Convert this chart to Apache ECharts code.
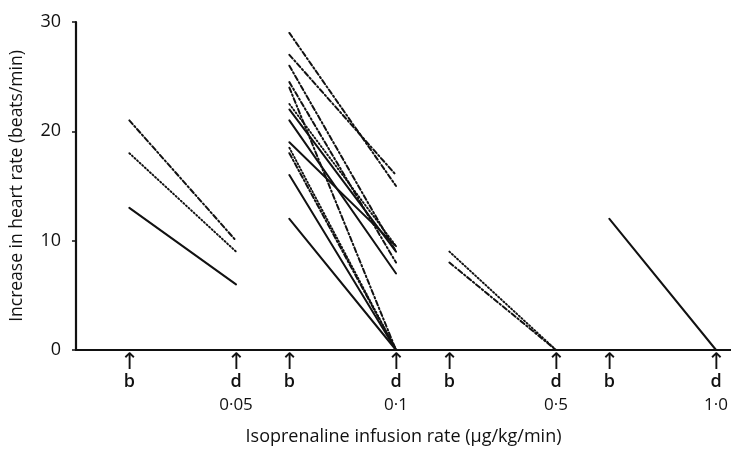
<!DOCTYPE html>
<html>
<head>
<meta charset="utf-8">
<script src="https://cdn.jsdelivr.net/npm/echarts@6/dist/echarts.min.js"></script>
<style>
html,body{margin:0;padding:0;background:#fff;}
#chart{width:731px;height:452px;}
</style>
</head>
<body>
<div id="chart"></div>
<script>
// Positions of the "b" (before) and "d" (during) arrows on the x axis, per dose group
const bPositions = [1, 4, 7, 10];
const dPositions = [3, 6, 9, 12];
const doseLabels = ['0·05', '0·1', '0·5', '1·0'];
const yTicks = [0, 10, 20, 30];

// Group 1: 0.05 ug/kg/min
const g1Before = [21, 18, 13];
const g1During = [10, 9, 6];
const g1Style  = ['dashdot', 'dotted', 'solid'];

// Group 2: 0.1 ug/kg/min
const g2Before = [29, 27, 26, 24.5, 24, 22, 21, 19, 22.5, 18.5, 18, 16, 12];
const g2During = [15, 16, 9, 8, 0, 9, 7, 9.5, 9.5, 0, 0, 0, 0];
const g2Style  = ['dashdot', 'dashdot', 'dashdot', 'dashdot', 'dashdot', 'solid', 'solid', 'solid', 'dotted', 'dotted', 'dashdot', 'solid', 'solid'];

// Group 3: 0.5 ug/kg/min
const g3Before = [9, 8];
const g3During = [0, 0];
const g3Style  = ['dotted', 'dashdot'];

// Group 4: 1.0 ug/kg/min
const g4Before = [12];
const g4During = [0];
const g4Style  = ['solid'];

const groups = [
  {before: g1Before, during: g1During, style: g1Style},
  {before: g2Before, during: g2During, style: g2Style},
  {before: g3Before, during: g3During, style: g3Style},
  {before: g4Before, during: g4During, style: g4Style}
];

const styleMap = {
  solid:   {type: 'solid', width: 2},
  dotted:  {type: [1.2, 2.3], width: 1.9},
  dashdot: {type: [5, 2.5, 1.5, 2.5], width: 2}
};

const series = [];
groups.forEach((g, gi) => {
  g.before.forEach((v, i) => {
    const st = styleMap[g.style[i]];
    series.push({
      type: 'line',
      data: [[bPositions[gi], v], [dPositions[gi], g.during[i]]],
      symbol: 'none',
      silent: true,
      animation: false,
      lineStyle: {color: '#111', width: st.width, type: st.type, cap: 'round'}
    });
  });
});

const font = '"Open Sans", "Noto Sans", sans-serif';
const arrowValues = [];
bPositions.forEach((b, i) => { arrowValues.push(b); arrowValues.push(dPositions[i]); });

const chart = echarts.init(document.getElementById('chart'));
chart.setOption({
  backgroundColor: '#fff',
  animation: false,
  grid: {left: 73, right: 0, top: 22, bottom: 102},
  xAxis: {
    type: 'value',
    min: 0,
    max: 12.28,
    name: 'Isoprenaline infusion rate (μg/kg/min)',
    nameLocation: 'middle',
    nameGap: 78,
    nameTextStyle: {fontFamily: font, fontSize: 18, color: '#111'},
    axisLine: {show: true, onZero: false, lineStyle: {color: '#111', width: 2.2}},
    axisTick: {show: false},
    splitLine: {show: false},
    axisLabel: {
      customValues: arrowValues,
      margin: 3,
      interval: 0,
      formatter: function (v) {
        const di = dPositions.indexOf(v);
        if (di >= 0) return '{arr|↑}\n{t|d}\n{n|' + doseLabels[di] + '}';
        return '{arr|↑}\n{t|b}\n{n| }';
      },
      rich: {
        arr: {fontFamily: 'DejaVu Sans', fontSize: 23, lineHeight: 20, color: '#111'},
        t: {fontFamily: font, fontSize: 18, lineHeight: 17, color: '#111', fontWeight: 600},
        n: {fontFamily: font, fontSize: 17, lineHeight: 31, color: '#111'}
      }
    }
  },
  yAxis: {
    type: 'value',
    min: 0,
    max: 30,
    interval: 10,
    name: 'Increase in heart rate (beats/min)',
    nameLocation: 'middle',
    nameGap: 50,
    nameRotate: 90,
    nameTextStyle: {fontFamily: font, fontSize: 17.5, color: '#111'},
    axisLine: {show: true, lineStyle: {color: '#111', width: 2.2}},
    axisTick: {show: true, length: 4, lineStyle: {color: '#111', width: 1.5}},
    splitLine: {show: false},
    axisLabel: {
      fontFamily: font, fontSize: 18, color: '#111', margin: 15,
      formatter: function (v) { return yTicks.indexOf(v) >= 0 ? String(v) : ''; }
    }
  },
  series: series
});
</script>
</body>
</html>
